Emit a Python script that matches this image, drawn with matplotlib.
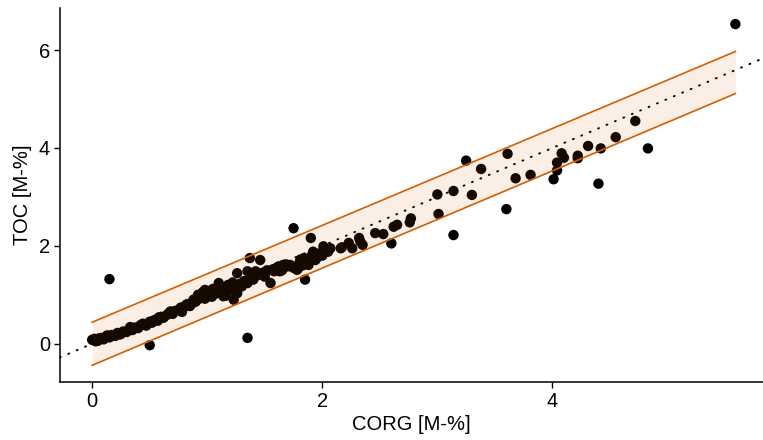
import matplotlib
matplotlib.use("Agg")
import matplotlib.pyplot as plt

plt.rcParams['font.family'] = ['Liberation Sans', 'DejaVu Sans']

# CORG vs TOC measurements [M-%]
corg = [
    0.00, 0.02, 0.05, 0.08, 0.10, 0.12, 0.15, 0.17, 0.20, 0.22,
    0.25, 0.27, 0.30, 0.32, 0.35, 0.37, 0.40, 0.42, 0.45, 0.47,
    0.50, 0.52, 0.55, 0.57, 0.60, 0.62, 0.65, 0.67, 0.70, 0.72,
    0.75, 0.78, 0.80, 0.82, 0.85, 0.88, 0.90, 0.92, 0.94, 0.96,
    0.98, 1.00, 1.02, 1.04, 1.05, 1.07, 1.10, 1.12, 1.14, 1.16,
    1.18, 1.20, 1.22, 1.23, 1.24, 1.26, 1.26, 1.28, 1.30, 1.32,
    1.35, 1.35, 1.37, 1.38, 1.40, 1.42, 1.44, 1.46, 1.48, 1.50,
    1.52, 1.55, 1.57, 1.58, 1.60, 1.62, 1.63, 1.65, 1.66, 1.68,
    1.70, 1.72, 1.75, 1.75, 1.78, 1.79, 1.80, 1.81, 1.83, 1.84,
    1.85, 1.85, 1.88, 1.90, 1.90, 1.90, 1.92, 1.94, 1.95, 1.98,
    2.00, 2.01, 2.03, 2.05, 2.07, 2.16, 2.17, 2.23, 2.26, 2.32,
    2.33, 2.35, 2.46, 2.53, 2.60, 2.62, 2.65, 2.76, 2.77, 3.00,
    3.01, 3.14, 3.14, 3.25, 3.30, 3.38, 3.60, 3.61, 3.68, 3.81,
    4.01, 4.04, 4.04, 4.08, 4.10, 4.22, 4.22, 4.31, 4.40, 4.42,
    4.55, 4.72, 4.83, 5.59,
    0.15, 0.50, 1.35, 1.10, 0.98, 1.14, 0.88, 0.82, 0.03, 0.06,
    0.33, 0.44, 0.58, 0.68, 0.77, 0.86, 0.93, 0.24, 0.13, 0.53,
]
toc = [
    0.08, 0.10, 0.06, 0.12, 0.09, 0.14, 0.13, 0.18, 0.16, 0.22,
    0.20, 0.25, 0.24, 0.29, 0.28, 0.33, 0.32, 0.38, 0.40, 0.37,
    0.45, 0.43, 0.49, 0.47, 0.55, 0.53, 0.59, 0.63, 0.61, 0.67,
    0.69, 0.65, 0.75, 0.80, 0.77, 0.90, 0.86, 1.00, 0.95, 1.05,
    0.92, 1.00, 1.08, 0.96, 1.12, 1.02, 1.18, 1.05, 1.12, 0.98,
    1.20, 1.10, 1.25, 0.90, 1.15, 1.03, 1.44, 1.22, 1.17, 1.28,
    1.24, 1.48, 1.75, 1.35, 1.31, 1.48, 1.40, 1.71, 1.45, 1.37,
    1.50, 1.24, 1.52, 1.48, 1.55, 1.58, 1.48, 1.50, 1.61, 1.62,
    1.58, 1.61, 1.55, 2.36, 1.51, 1.54, 1.65, 1.72, 1.60, 1.75,
    1.68, 1.31, 1.61, 1.72, 1.78, 2.16, 1.88, 1.71, 1.75, 1.85,
    1.80, 1.99, 1.92, 1.88, 1.95, 1.95, 1.97, 2.06, 1.95, 2.16,
    2.09, 2.02, 2.26, 2.24, 2.05, 2.39, 2.43, 2.48, 2.56, 3.05,
    2.65, 3.12, 2.22, 3.74, 3.04, 3.57, 2.75, 3.88, 3.38, 3.45,
    3.36, 3.54, 3.70, 3.89, 3.80, 3.84, 3.79, 4.04, 3.27, 3.99,
    4.22, 4.55, 3.99, 6.53,
    1.32, -0.03, 0.12, 1.24, 1.10, 0.97, 0.84, 0.80, 0.05, 0.11,
    0.34, 0.41, 0.54, 0.66, 0.74, 0.83, 0.92, 0.19, 0.17, 0.47,
]

# tolerance band around the 1:1 line
band_x = [0.0, 5.59]
band_lo = [-0.44, 5.11]
band_hi = [0.44, 5.97]
band_color = '#D55E00'

# 1:1 reference line
ref_x = [-0.5, 6.0]
ref_y = [-0.5, 6.0]

fig = plt.figure(figsize=(7.63, 4.40), dpi=100)
ax = fig.add_axes([0.0786, 0.132, 0.9214, 0.85])

ax.plot(ref_x, ref_y, color='black', lw=1.4, linestyle=(0, (0.5, 4.2)),
        dash_capstyle='round', zorder=1)
ax.scatter(corg, toc, s=56, color='black', edgecolors='none', zorder=2)
ax.fill_between(band_x, band_lo, band_hi, color=band_color, alpha=0.1,
                linewidth=0, zorder=3)
ax.plot(band_x, band_lo, color=band_color, lw=1.2, zorder=4)
ax.plot(band_x, band_hi, color=band_color, lw=1.2, zorder=4)

ax.set_xlim(-0.28, 5.83)
ax.set_ylim(-0.78, 6.86)
ax.set_xticks([0, 2, 4])
ax.set_yticks([0, 2, 4, 6])

for side in ['top', 'right']:
    ax.spines[side].set_visible(False)
for side in ['left', 'bottom']:
    ax.spines[side].set_linewidth(1.1)

ax.tick_params(axis='both', length=4, width=1.0, labelsize=14.5,
               colors='black', pad=3)
ax.set_xlabel('CORG [M-%]', fontsize=14.5, labelpad=3)
ax.set_ylabel('TOC [M-%]', fontsize=14.5, labelpad=5)

fig.savefig('out.png', dpi=100)
